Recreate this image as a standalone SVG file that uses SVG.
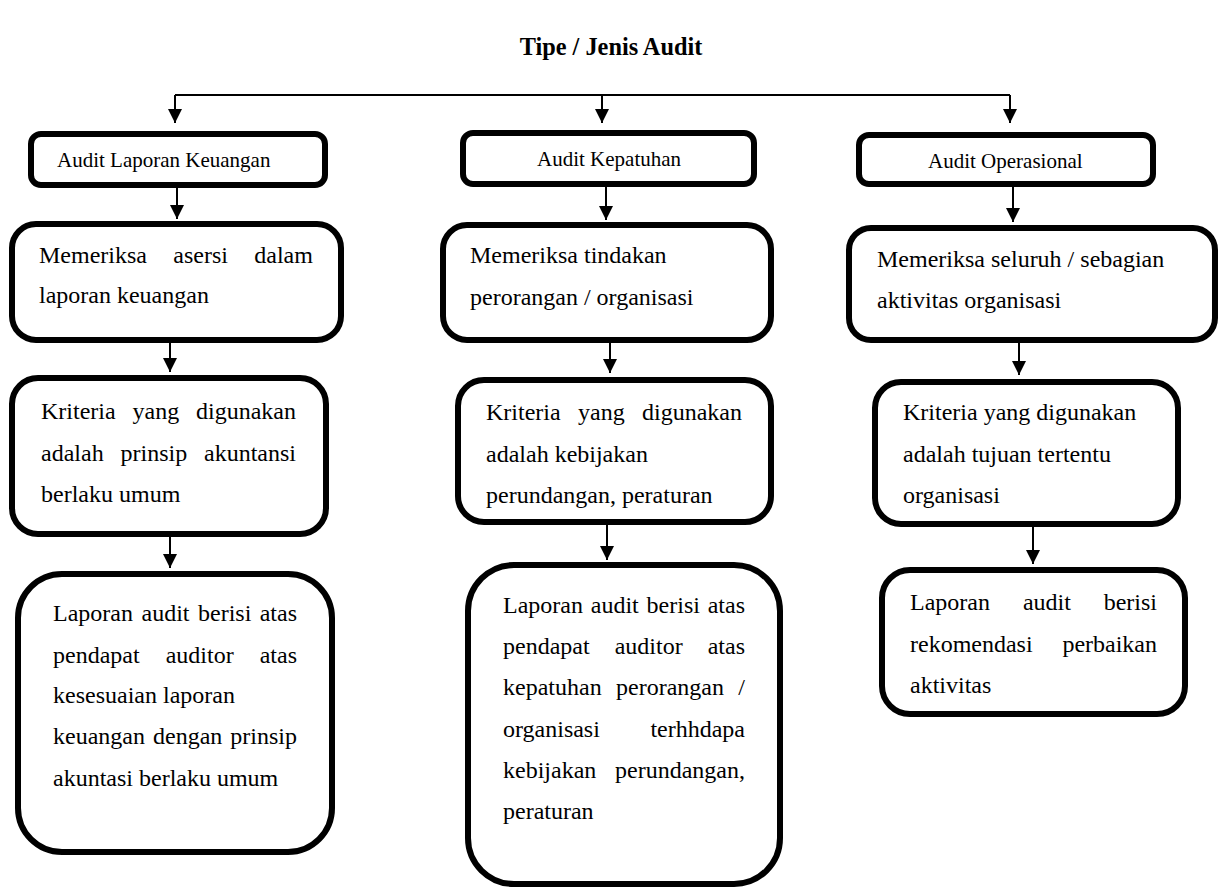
<svg xmlns="http://www.w3.org/2000/svg" width="1224" height="890" viewBox="0 0 1224 890">
<style>
.box{fill:#fff;stroke:#000;stroke-width:6}
.bodytxt{font-family:"Liberation Serif","Times New Roman",serif;font-size:24px;fill:#000}
.hdr{font-family:"Liberation Serif","Times New Roman",serif;font-size:21px;fill:#000}
.ttl{font-family:"Liberation Serif","Times New Roman",serif;font-size:24.3px;font-weight:bold;fill:#000}
.cn{stroke:#000;stroke-width:2;fill:none}
.ca{stroke:#000;stroke-width:2;fill:none;marker-end:url(#ah)}
</style>
<defs>
<marker id="ah" markerUnits="userSpaceOnUse" markerWidth="14" markerHeight="14" refX="14" refY="7" orient="auto">
<path d="M0,0 L14,7 L0,14 z" fill="#000"/>
</marker>
</defs>
<text class="ttl" x="611" y="55" text-anchor="middle">Tipe / Jenis Audit</text>
<g id="connectors">
<line class="cn" x1="175" y1="95" x2="1010" y2="95"/>
<line class="ca" x1="175" y1="95" x2="175" y2="123"/>
<line class="ca" x1="602" y1="95" x2="602" y2="123"/>
<line class="ca" x1="1010" y1="95" x2="1010" y2="123"/>
<line class="ca" x1="177" y1="188" x2="177" y2="219"/>
<line class="ca" x1="606" y1="187" x2="606" y2="220"/>
<line class="ca" x1="1013" y1="187" x2="1013" y2="222"/>
<line class="ca" x1="170" y1="343" x2="170" y2="372"/>
<line class="ca" x1="610" y1="343" x2="610" y2="373"/>
<line class="ca" x1="1019" y1="343" x2="1019" y2="375"/>
<line class="ca" x1="170" y1="537" x2="170" y2="568"/>
<line class="ca" x1="607" y1="525" x2="607" y2="560"/>
<line class="ca" x1="1033" y1="527" x2="1033" y2="564"/>
</g>
<g id="audit-laporan-keuangan">
<rect class="box" x="31" y="134" width="294" height="51" rx="10"/>
<text class="hdr" x="57" y="167">Audit Laporan Keuangan</text>
</g>
<g id="audit-kepatuhan">
<rect class="box" x="463" y="133" width="291" height="51" rx="10"/>
<text class="hdr" x="537" y="166">Audit Kepatuhan</text>
</g>
<g id="audit-operasional">
<rect class="box" x="859" y="135" width="294" height="49" rx="10"/>
<text class="hdr" x="928" y="168">Audit Operasional</text>
</g>
<g id="k1-memeriksa">
<rect class="box" x="12" y="224" width="329" height="116" rx="24"/>
<text class="bodytxt" y="263"><tspan x="39">Memeriksa</tspan><tspan x="173.3">asersi</tspan><tspan x="254.3">dalam</tspan></text>
<text class="bodytxt" x="39" y="303">laporan keuangan</text>
</g>
<g id="k1-kriteria">
<rect class="box" x="12" y="378" width="314" height="156" rx="26"/>
<text class="bodytxt" y="419"><tspan x="41">Kriteria</tspan><tspan x="132.5">yang</tspan><tspan x="196">digunakan</tspan></text>
<text class="bodytxt" y="461"><tspan x="41">adalah</tspan><tspan x="120.5">prinsip</tspan><tspan x="204">akuntansi</tspan></text>
<text class="bodytxt" x="41" y="502">berlaku umum</text>
</g>
<g id="k1-laporan">
<rect class="box" x="18" y="574" width="314" height="278" rx="44"/>
<text class="bodytxt" y="621"><tspan x="53">Laporan</tspan><tspan x="141.5">audit</tspan><tspan x="198">berisi</tspan><tspan x="259.7">atas</tspan></text>
<text class="bodytxt" y="663"><tspan x="53">pendapat</tspan><tspan x="165.7">auditor</tspan><tspan x="259.7">atas</tspan></text>
<text class="bodytxt" x="53" y="703">kesesuaian laporan</text>
<text class="bodytxt" y="744"><tspan x="53">keuangan</tspan><tspan x="153">dengan</tspan><tspan x="230.3">prinsip</tspan></text>
<text class="bodytxt" x="53" y="786">akuntasi berlaku umum</text>
</g>
<g id="k2-memeriksa">
<rect class="box" x="443" y="225" width="328" height="115" rx="24"/>
<text class="bodytxt" x="470" y="263">Memeriksa tindakan</text>
<text class="bodytxt" x="470" y="305">perorangan / organisasi</text>
</g>
<g id="k2-kriteria">
<rect class="box" x="458" y="380" width="313" height="142" rx="26"/>
<text class="bodytxt" y="420"><tspan x="486">Kriteria</tspan><tspan x="578">yang</tspan><tspan x="642">digunakan</tspan></text>
<text class="bodytxt" x="486" y="462">adalah kebijakan</text>
<text class="bodytxt" x="486" y="503">perundangan, peraturan</text>
</g>
<g id="k2-laporan">
<rect class="box" x="468" y="565" width="312" height="319" rx="46"/>
<text class="bodytxt" y="613"><tspan x="503">Laporan</tspan><tspan x="590.8">audit</tspan><tspan x="646.6">berisi</tspan><tspan x="707.7">atas</tspan></text>
<text class="bodytxt" y="654"><tspan x="503">pendapat</tspan><tspan x="614.7">auditor</tspan><tspan x="707.7">atas</tspan></text>
<text class="bodytxt" y="695"><tspan x="503">kepatuhan</tspan><tspan x="616">perorangan</tspan><tspan x="738.3">/</tspan></text>
<text class="bodytxt" y="737"><tspan x="503">organisasi</tspan><tspan x="650.4">terhhdapa</tspan></text>
<text class="bodytxt" y="778"><tspan x="503">kebijakan</tspan><tspan x="615">perundangan,</tspan></text>
<text class="bodytxt" x="503" y="819">peraturan</text>
</g>
<g id="k3-memeriksa">
<rect class="box" x="849" y="228" width="366" height="112" rx="22"/>
<text class="bodytxt" x="877" y="267">Memeriksa seluruh / sebagian</text>
<text class="bodytxt" x="877" y="308">aktivitas organisasi</text>
</g>
<g id="k3-kriteria">
<rect class="box" x="875" y="382" width="303" height="142" rx="26"/>
<text class="bodytxt" x="903" y="420">Kriteria yang digunakan</text>
<text class="bodytxt" x="903" y="462">adalah tujuan tertentu</text>
<text class="bodytxt" x="903" y="503">organisasi</text>
</g>
<g id="k3-laporan">
<rect class="box" x="882" y="570" width="303" height="144" rx="28"/>
<text class="bodytxt" y="610"><tspan x="910">Laporan</tspan><tspan x="1022.9">audit</tspan><tspan x="1103.7">berisi</tspan></text>
<text class="bodytxt" y="652"><tspan x="910">rekomendasi</tspan><tspan x="1062.4">perbaikan</tspan></text>
<text class="bodytxt" x="910" y="693">aktivitas</text>
</g>
</svg>
